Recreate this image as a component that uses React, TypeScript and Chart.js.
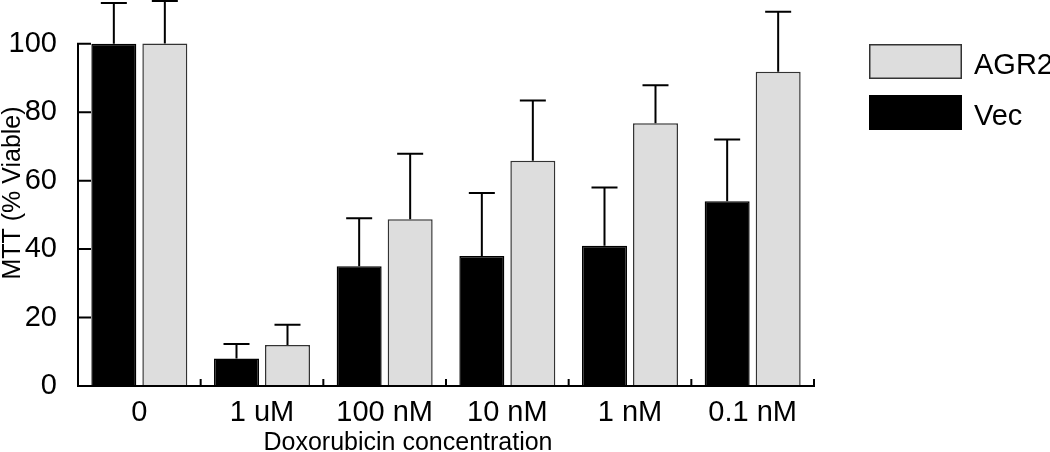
import React, { useEffect, useRef } from "react";
import { Chart, registerables } from "chart.js";

Chart.register(...registerables);

const categories = ["0", "1 uM", "100 nM", "10 nM", "1 nM", "0.1 nM"];
const vecMeans = [100, 8, 35, 38, 41, 54];
const vecErrors = [11.9, 4.3, 14, 18.4, 17, 18];
const agr2Means = [100.1, 12, 48.7, 65.8, 76.8, 91.8];
const agr2Errors = [12.4, 5.9, 19.2, 17.6, 11.1, 17.6];
const yTicks = [0, 20, 40, 60, 80, 100];
const xTitle = "Doxorubicin concentration";
const yTitle = "MTT (% Viable)";
const legendOrder = [1, 0]; // AGR2 first, then Vec

const FONT = "'Liberation Sans', Arial, sans-serif";

const decorPlugin = {
  id: "decor",
  afterDatasetsDraw(chart: any) {
    const ctx = chart.ctx as CanvasRenderingContext2D;
    const xs = chart.scales.x;
    const ys = chart.scales.y;
    const area = chart.chartArea;
    ctx.save();
    ctx.strokeStyle = "#000";
    ctx.lineWidth = 2;
    ctx.lineCap = "butt";

    // error bars (upper only)
    chart.data.datasets.forEach((ds: any, di: number) => {
      const meta = chart.getDatasetMeta(di);
      meta.data.forEach((bar: any, i: number) => {
        const v = ds.data[i];
        const yTop = ys.getPixelForValue(v + ds.errors[i]);
        const yBar = ys.getPixelForValue(v);
        ctx.beginPath();
        ctx.moveTo(bar.x, yBar);
        ctx.lineTo(bar.x, yTop);
        ctx.moveTo(bar.x - 13, yTop);
        ctx.lineTo(bar.x + 13, yTop);
        ctx.stroke();
      });
    });

    // axes lines
    const left = area.left;
    const bottom = ys.getPixelForValue(0);
    const topTick = ys.getPixelForValue(yTicks[yTicks.length - 1]);
    ctx.beginPath();
    ctx.moveTo(left, topTick - 1);
    ctx.lineTo(left, bottom + 1);
    ctx.moveTo(left - 1, bottom);
    ctx.lineTo(area.right + 1, bottom);
    // inward y ticks
    yTicks.forEach((v) => {
      const py = ys.getPixelForValue(v);
      ctx.moveTo(left, py);
      ctx.lineTo(left + 13, py);
    });
    // x category boundary ticks (upward)
    const half = (xs.getPixelForValue(1) - xs.getPixelForValue(0)) / 2;
    for (let i = 0; i < categories.length; i++) {
      const px = xs.getPixelForValue(i) + half;
      ctx.moveTo(px, bottom);
      ctx.lineTo(px, bottom - 7);
    }
    ctx.stroke();

    // legend
    const lx = area.right + 55;
    const boxW = 93;
    const boxH = 35;
    let ly = area.top + 44;
    ctx.font = `29px ${FONT}`;
    ctx.textAlign = "left";
    ctx.textBaseline = "alphabetic";
    legendOrder.forEach((di) => {
      const ds = chart.data.datasets[di];
      ctx.fillStyle = ds.backgroundColor;
      ctx.fillRect(lx, ly, boxW, boxH);
      ctx.lineWidth = 1.5;
      ctx.strokeStyle = ds.borderColor;
      ctx.strokeRect(lx + 0.75, ly + 0.75, boxW - 1.5, boxH - 1.5);
      ctx.fillStyle = "#000";
      ctx.fillText(ds.label, lx + boxW + 12, ly + 29.5);
      ly += boxH + 16;
    });

    // x axis title
    ctx.font = `25px ${FONT}`;
    ctx.textAlign = "center";
    ctx.fillStyle = "#000";
    ctx.fillText(xTitle, (area.left + area.right) / 2 - 38, 450);

    ctx.restore();
  },
};

export default function App() {
  const ref = useRef<HTMLCanvasElement>(null);

  useEffect(() => {
    if (!ref.current) return;
    const chart = new Chart(ref.current, {
      type: "bar",
      data: {
        labels: categories,
        datasets: [
          {
            label: "Vec",
            data: vecMeans,
            errors: vecErrors,
            backgroundColor: "#000000",
            borderColor: "#000000",
            borderWidth: 1.5,
          } as any,
          {
            label: "AGR2",
            data: agr2Means,
            errors: agr2Errors,
            backgroundColor: "#dddddd",
            borderColor: "#333333",
            borderWidth: 1.5,
          } as any,
        ],
      },
      options: {
        responsive: false,
        animation: false,
        layout: { padding: { left: 0, right: 236, top: 0, bottom: 0 } },
        datasets: {
          bar: { categoryPercentage: 0.8315, barPercentage: 0.882 },
        },
        plugins: {
          legend: { display: false },
          tooltip: { enabled: false },
        },
        scales: {
          x: {
            grid: { display: false },
            border: { display: false },
            ticks: {
              color: "#000",
              font: { family: FONT, size: 29 },
              padding: 2,
              maxRotation: 0,
              autoSkip: false,
            },
            afterFit: (s: any) => {
              s.height = 66;
              s.paddingLeft = 0;
              s.paddingRight = 0;
              s.paddingTop = 0;
              s.paddingBottom = 0;
            },
          },
          y: {
            min: 0,
            max: 112.8,
            grid: { display: false },
            border: { display: false },
            afterBuildTicks: (s: any) => {
              s.ticks = yTicks.map((v) => ({ value: v }));
            },
            ticks: {
              color: "#000",
              font: { family: FONT, size: 29 },
              padding: 13,
            },
            title: {
              display: true,
              text: yTitle,
              color: "#000",
              font: { family: FONT, size: 25 },
              padding: { top: -2, bottom: 0 },
            },
            afterFit: (s: any) => {
              s.width = 78;
              s.paddingTop = 0;
              s.paddingBottom = 0;
              s.paddingLeft = 0;
              s.paddingRight = 0;
            },
          },
        },
      } as any,
      plugins: [decorPlugin],
    });
    return () => chart.destroy();
  }, []);

  return (
    <div
      style={{
        position: "fixed",
        left: 0,
        top: 0,
        width: 1050,
        height: 452,
        background: "#fff",
      }}
    >
      <canvas
        ref={ref}
        width={1050}
        height={452}
        style={{ display: "block", width: 1050, height: 452 }}
      />
    </div>
  );
}
